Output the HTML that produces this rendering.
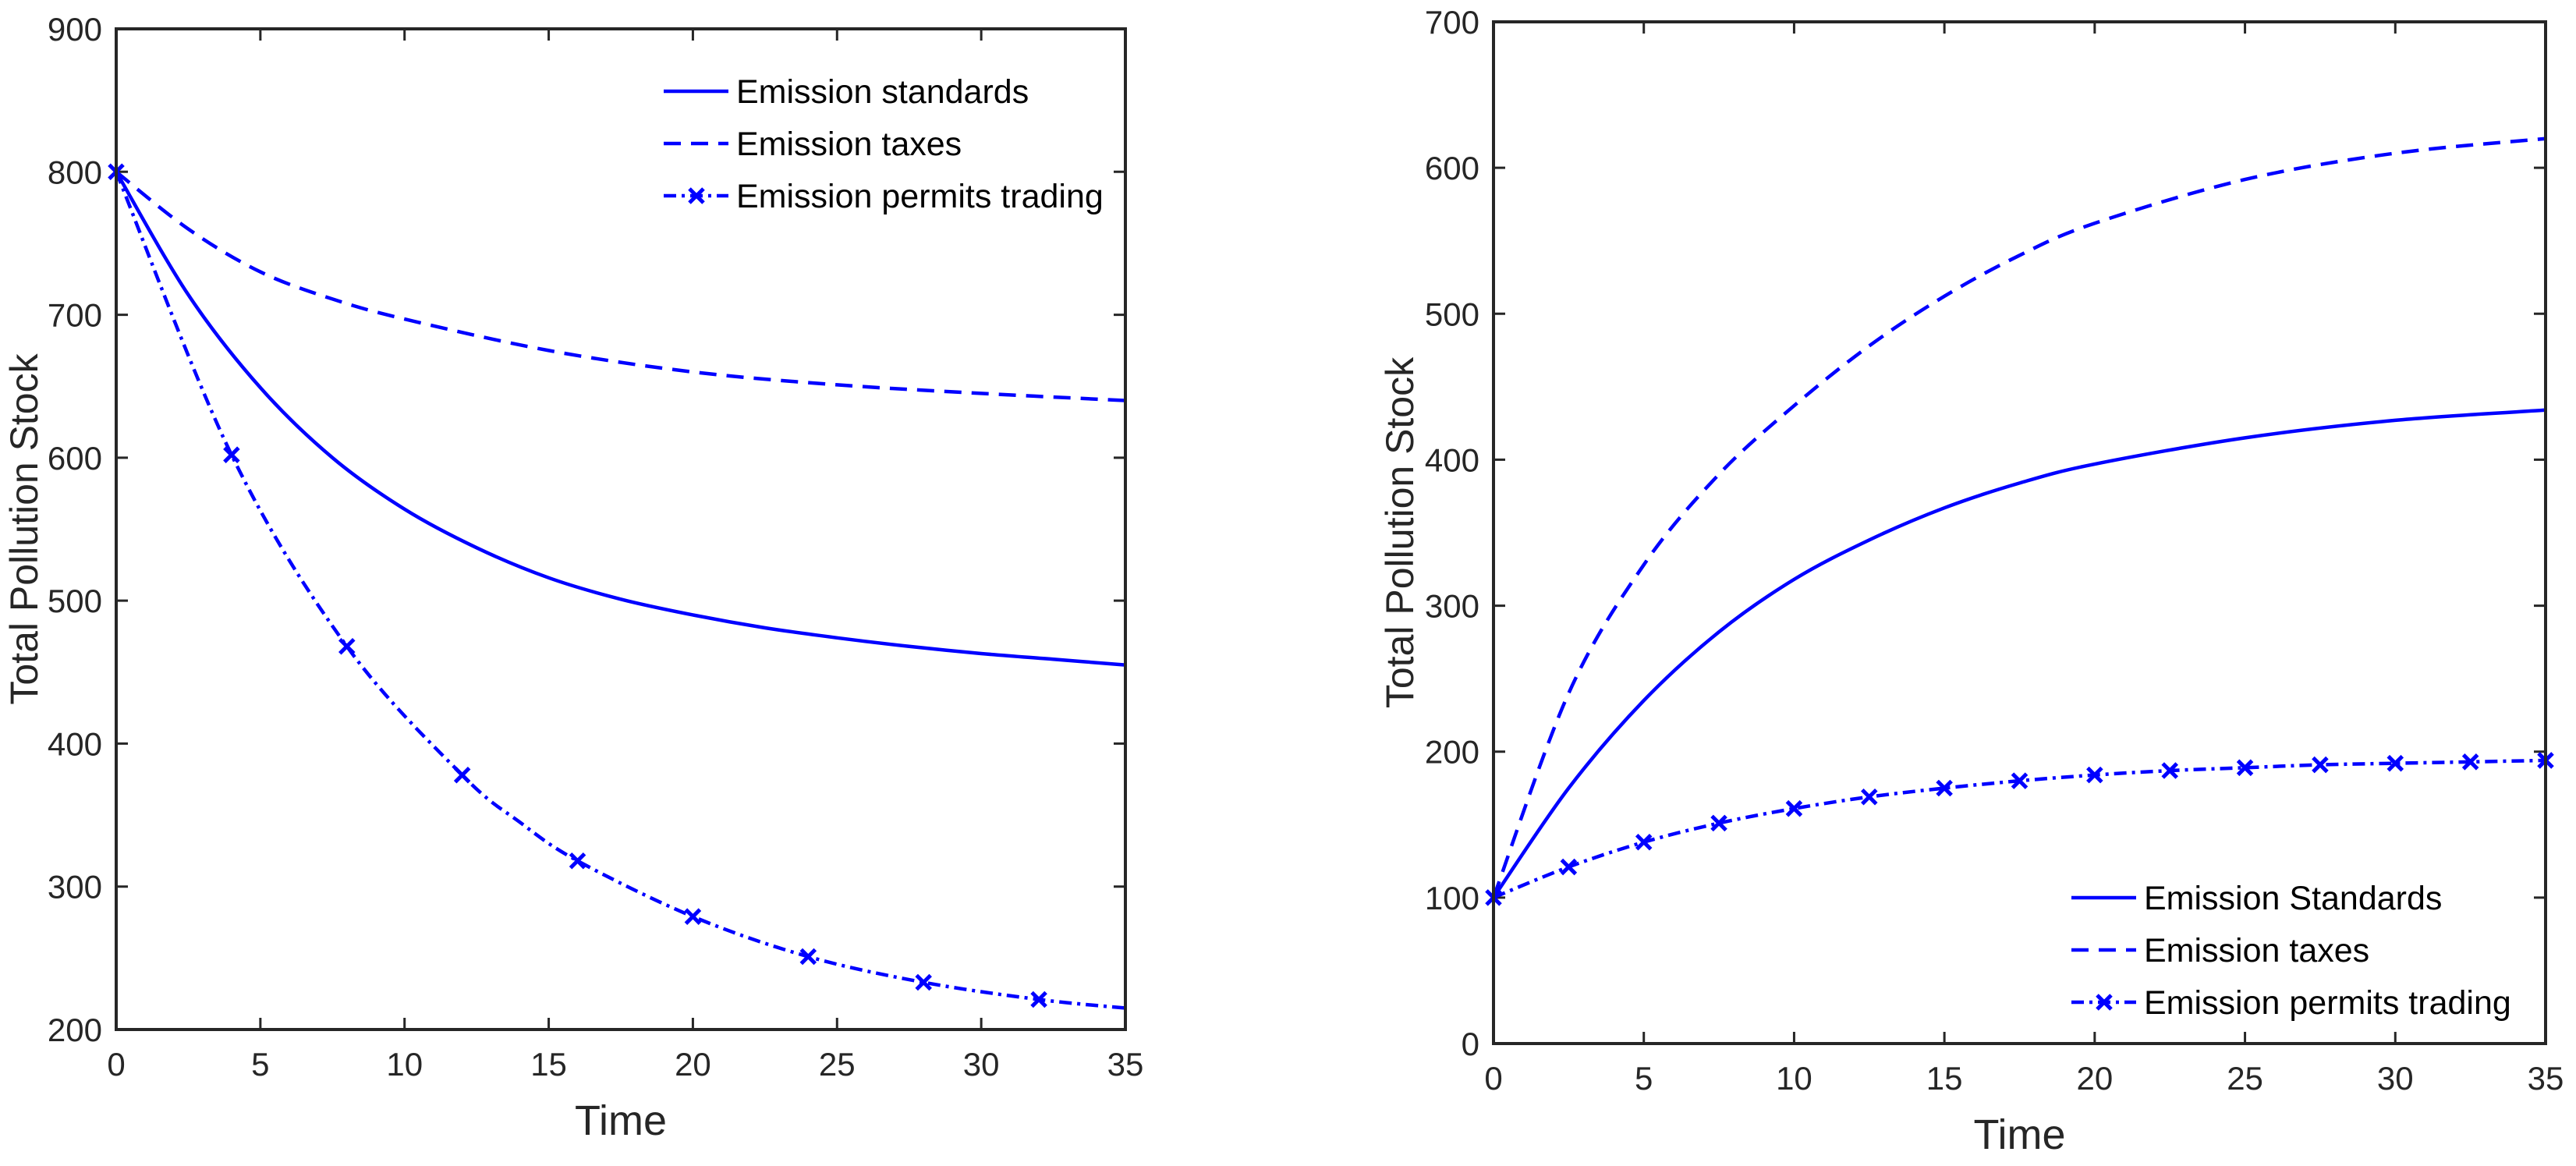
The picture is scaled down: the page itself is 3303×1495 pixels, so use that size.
<!DOCTYPE html>
<html><head><meta charset="utf-8"><style>
html,body{margin:0;padding:0;background:#fff;}
svg text{font-family:"Liberation Sans",Arial,sans-serif;}
</style></head><body>
<svg id="chart" width="3303" height="1490" viewBox="0 0 3303 1490" xmlns="http://www.w3.org/2000/svg"></svg>
<script>
// ---- Left panel data ----
const leftStdX = [0,2.5,5,7.5,10,12.5,15,17.5,20,22.5,25,27.5,30,32.5,35];
const leftStdY = [800,714,649,600,564,537,516,501,490,481,474,468,463,459,455];
const leftTaxX = [0,2.5,5,7.5,10,15,20,25,30,35];
const leftTaxY = [800,760,730,711,697,675,660,651,645,640];
const leftTrdX = [0,4,8,12,14,16,20,24,28,32,35];
const leftTrdY = [800,602,468,378,345,318,279,251,233,221,215];
const leftTrdMarkX = [0,4,8,12,16,20,24,28,32];
const leftXTicks = [0,5,10,15,20,25,30,35];
const leftYTicks = [200,300,400,500,600,700,800,900];
const leftLegend = ["Emission standards","Emission taxes","Emission permits trading"];
// ---- Right panel data ----
const rightStdX = [0,2.5,5,7.5,10,12.5,15,17.5,20,25,30,35];
const rightStdY = [100,175,235,282,318,345,367,384,397,415,427,434];
const rightTaxX = [0,2.5,5,7.5,10,12.5,15,17.5,20,25,30,35];
const rightTaxY = [100,240,328,390,437,478,512,540,562,592,610,620];
const rightTrdX = [0,2.5,5,7.5,10,12.5,15,17.5,20,22.5,25,27.5,30,32.5,35];
const rightTrdY = [100,121,138,151,161,169,175,180,184,187,189,191,192,193,194];
const rightTrdMarkX = [0,2.5,5,7.5,10,12.5,15,17.5,20,22.5,25,27.5,30,32.5,35];
const rightXTicks = [0,5,10,15,20,25,30,35];
const rightYTicks = [0,100,200,300,400,500,600,700];
const rightLegend = ["Emission Standards","Emission taxes","Emission permits trading"];

const NS="http://www.w3.org/2000/svg";
const svg=document.getElementById('chart');
function mk(tag,attrs,parent){const e=document.createElementNS(NS,tag);for(const k in attrs)e.setAttribute(k,attrs[k]);(parent||svg).appendChild(e);return e;}
function smooth(pts){
  let d=`M${pts[0][0]},${pts[0][1]}`;
  for(let i=0;i<pts.length-1;i++){
    const p0=pts[Math.max(0,i-1)],p1=pts[i],p2=pts[i+1],p3=pts[Math.min(pts.length-1,i+2)];
    const c1=[p1[0]+(p2[0]-p0[0])/6,p1[1]+(p2[1]-p0[1])/6];
    const c2=[p2[0]-(p3[0]-p1[0])/6,p2[1]-(p3[1]-p1[1])/6];
    d+=` C${c1[0]},${c1[1]} ${c2[0]},${c2[1]} ${p2[0]},${p2[1]}`;
  }
  return d;
}
function xmark(g,x,y,s){
  const m=mk('path',{d:`M${x-s},${y-s}L${x+s},${y+s}M${x-s},${y+s}L${x+s},${y-s}`,stroke:'#0000ff','stroke-width':5,fill:'none'},g);
  
  
}
function panel(o){
  const g=mk('g',{});
  
  
  const sx=v=>o.L+(v-o.xmin)/(o.xmax-o.xmin)*(o.R-o.L);
  const sy=v=>o.B-(v-o.ymin)/(o.ymax-o.ymin)*(o.B-o.T);
  o.xt.forEach(t=>{
    const x=sx(t);
    const tk=mk('path',{d:`M${x},${o.B}v-15M${x},${o.T}v15`,stroke:'#262626','stroke-width':3},g);
    
    
    const tl=mk('text',{x:x,y:o.B+59,'font-size':42,'text-anchor':'middle',fill:'#262626'},g);
    
    
    tl.textContent=t;
  });
  o.yt.forEach(t=>{
    const y=sy(t);
    const tk=mk('path',{d:`M${o.L},${y}h15M${o.R},${y}h-15`,stroke:'#262626','stroke-width':3},g);
    
    
    const tl=mk('text',{x:o.L-18,y:y+15,'font-size':42,'text-anchor':'end',fill:'#262626'},g);
    
    
    tl.textContent=t;
  });
  const series=[
    {x:o.sX,y:o.sY,dash:'none',name:'series-standards'},
    {x:o.tX,y:o.tY,dash:'22 13',name:'series-taxes'},
    {x:o.rX,y:o.rY,dash:'16 7 4 7',name:'series-trading',marks:true}
  ];
  series.forEach(s=>{
    const pts=s.x.map((v,i)=>[sx(v),sy(s.y[i])]);
    const p=mk('path',{d:smooth(pts),stroke:'#0000ff','stroke-width':4.5,fill:'none','stroke-dasharray':s.dash},g);
    
    
    if(s.marks) s.x.forEach((v,i)=>{ if(o.mX.includes(v)) xmark(g,sx(v),sy(s.y[i]),9); });
  });
  const box=mk('rect',{x:o.L,y:o.T,width:o.R-o.L,height:o.B-o.T,fill:'none',stroke:'#262626','stroke-width':4},g);
  
  
  const xt=mk('text',{x:(o.L+o.R)/2,y:o.B+135,'font-size':54,'text-anchor':'middle',fill:'#262626'},g);
  
  
  xt.textContent='Time';
  const yt=mk('text',{x:0,y:0,'font-size':50,'text-anchor':'middle',fill:'#262626',transform:`translate(${o.ytx},${(o.T+o.B)/2}) rotate(-90)`},g);
  
  
  yt.textContent='Total Pollution Stock';
  const lg=mk('g',{},g);
  
  
  const dashes=['none','22 13','16 7 4 7'];
  o.leg.forEach((lab,i)=>{
    const y=o.legY+i*o.legDy;
    const e=mk('g',{},lg);
    
    
    mk('path',{d:`M${o.legX},${y}H${o.legX+83}`,stroke:'#0000ff','stroke-width':4.5,'stroke-dasharray':dashes[i]},e);
    if(i===2) xmark(e,o.legX+42,y,9);
    const t=mk('text',{x:o.legX+93,y:y+15,'font-size':43,fill:'#000'},e);
    t.textContent=lab;
  });
}
panel({name:'left-panel',L:149,R:1443,T:37,B:1320,xmin:0,xmax:35,ymin:200,ymax:900,
  xt:leftXTicks,yt:leftYTicks,sX:leftStdX,sY:leftStdY,tX:leftTaxX,tY:leftTaxY,rX:leftTrdX,rY:leftTrdY,mX:leftTrdMarkX,
  leg:leftLegend,legX:851,legY:117,legDy:67,ytx:48});
panel({name:'right-panel',L:1915,R:3264,T:28,B:1338,xmin:0,xmax:35,ymin:0,ymax:700,
  xt:rightXTicks,yt:rightYTicks,sX:rightStdX,sY:rightStdY,tX:rightTaxX,tY:rightTaxY,rX:rightTrdX,rY:rightTrdY,mX:rightTrdMarkX,
  leg:rightLegend,legX:2656,legY:1151,legDy:67,ytx:1812});
</script>
</body></html>
